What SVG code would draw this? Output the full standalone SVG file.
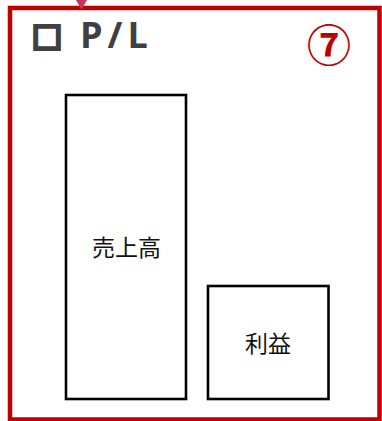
<svg xmlns="http://www.w3.org/2000/svg" width="382" height="421" viewBox="0 0 382 421">
<style>
.box{fill:#fff;stroke:#000;stroke-width:2.6}
.lbl{font-family:"Noto Sans CJK JP","Noto Sans",sans-serif;font-size:23px;fill:#111;text-anchor:middle}
.title{font-family:"Open Sans","Noto Sans",sans-serif;font-weight:bold;fill:#404040}
.sq{font-family:"Noto Sans CJK JP",sans-serif;font-weight:bold;fill:#404040;stroke:#404040;stroke-width:3.5}
</style>
<rect width="382" height="421" fill="#fff"/>
<g id="frame">
<rect x="10" y="8" width="369.5" height="411.5" fill="none" stroke="#c00000" stroke-width="4.5"/>
</g>
<g id="connectors">
<polygon points="76,0 87,0 81.5,9.5" fill="#c8365a"/>
</g>
<g id="title">
<text class="sq" x="32" y="48.5" font-size="29" textLength="30" lengthAdjust="spacingAndGlyphs">□</text>
<text class="title" x="80" y="48" font-size="36" letter-spacing="5">P/L</text>
</g>
<g id="badge">
<text x="329" y="62" font-family="Noto Sans CJK JP,sans-serif" font-weight="bold" font-size="44" fill="#c00000" text-anchor="middle">⑦</text>
</g>
<g id="sales">
<rect class="box" x="66" y="95" width="120" height="304"/>
<text class="lbl" x="126.5" y="256">売上高</text>
</g>
<g id="profit">
<rect class="box" x="208" y="286" width="120.5" height="113"/>
<text class="lbl" x="268" y="351.5">利益</text>
</g>
</svg>
